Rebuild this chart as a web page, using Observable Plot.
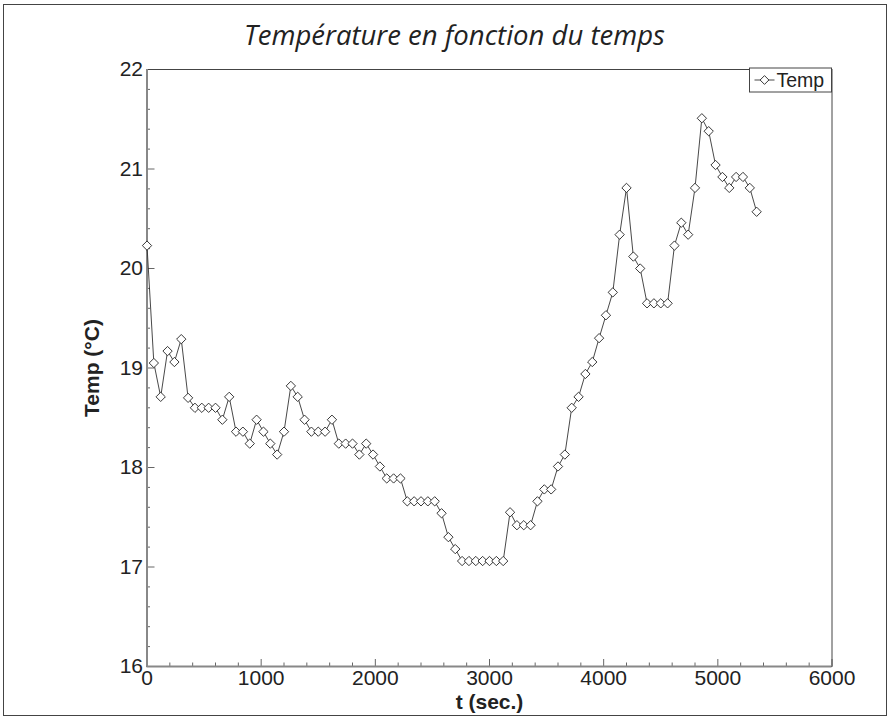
<!DOCTYPE html>
<html>
<head>
<meta charset="utf-8">
<script src="https://cdn.jsdelivr.net/npm/d3@7"></script>
<script src="https://cdn.jsdelivr.net/npm/@observablehq/plot@0.6"></script>
<style>
  html, body { margin: 0; padding: 0; background: #fff; }
  #wrap { position: relative; width: 893px; height: 720px; overflow: hidden; }
  #border { position: absolute; left: 3px; top: 4px; width: 884px; height: 712px; border: 1.5px solid #444; box-sizing: border-box; pointer-events: none; z-index: 2; }
  #wrap svg { position: absolute; left: 0; top: 0; }
</style>
</head>
<body>
<div id="wrap"><div id="border"></div></div>
<script>
const titleText = "Température en fonction du temps";
const xLabel = "t (sec.)";
const yLabel = "Temp (°C)";
const seriesName = "Temp";

const times = [0,60,120,180,240,300,360,420,480,540,
  600,660,720,780,840,900,960,1020,1080,1140,
  1200,1260,1320,1380,1440,1500,1560,1620,1680,1740,
  1800,1860,1920,1980,2040,2100,2160,2220,2280,2340,
  2400,2460,2520,2580,2640,2700,2760,2820,2880,2940,
  3000,3060,3120,3180,3240,3300,3360,3420,3480,3540,
  3600,3660,3720,3780,3840,3900,3960,4020,4080,4140,
  4200,4260,4320,4380,4440,4500,4560,4620,4680,4740,
  4800,4860,4920,4980,5040,5100,5160,5220,5280,5340];

const temps = [20.23,19.05,18.71,19.17,19.06,19.29,18.70,18.60,18.60,18.60,
  18.60,18.48,18.71,18.36,18.36,18.24,18.48,18.36,18.24,18.13,
  18.36,18.82,18.71,18.48,18.36,18.36,18.36,18.48,18.24,18.24,
  18.24,18.13,18.24,18.13,18.01,17.89,17.89,17.89,17.66,17.66,
  17.66,17.66,17.66,17.54,17.30,17.18,17.06,17.06,17.06,17.06,
  17.06,17.06,17.06,17.55,17.42,17.42,17.42,17.66,17.78,17.78,
  18.01,18.13,18.60,18.71,18.94,19.06,19.30,19.53,19.76,20.34,
  20.81,20.12,20.00,19.65,19.65,19.65,19.65,20.23,20.46,20.34,
  20.81,21.51,21.38,21.04,20.92,20.81,20.92,20.92,20.81,20.57];

const xMajor = [0,1000,2000,3000,4000,5000,6000];
const xMinor = [200,400,600,800,1200,1400,1600,1800,2200,2400,2600,2800,3200,3400,3600,3800,4200,4400,4600,4800,5200,5400,5600,5800];
const yMajor = [16,17,18,19,20,21,22];
const yMinor = [16.2,16.4,16.6,16.8,17.2,17.4,17.6,17.8,18.2,18.4,18.6,18.8,19.2,19.4,19.6,19.8,20.2,20.4,20.6,20.8,21.2,21.4,21.6,21.8];

const data = times.map((t, i) => ({t, temp: temps[i]}));

const W = 893, H = 720;
const mL = 146.5, mR = 61.5, mT = 69, mB = 54;
const fw = W - mL - mR, fh = H - mT - mB;
const sansFont = "'Liberation Sans', Arial, sans-serif";

const plot = Plot.plot({
  width: W, height: H,
  marginLeft: mL, marginRight: mR, marginTop: mT, marginBottom: mB,
  x: {domain: [0, 6000]},
  y: {domain: [16, 22]},
  style: {background: "transparent", fontFamily: sansFont, color: "#222"},
  marks: [
    Plot.axisX(xMajor, {tickSize: 0, tickPadding: 4, fontSize: 21, label: null, fill: "#222", tickFormat: d => String(d)}),
    Plot.axisY(yMajor, {tickSize: 0, tickPadding: 4, fontSize: 21, label: null, fill: "#222", tickFormat: d => String(d)}),
    Plot.tickX(xMajor, {x: d => d, insetTop: fh - 7, stroke: "#666", strokeWidth: 1}),
    Plot.tickX(xMinor, {x: d => d, insetTop: fh - 3.5, stroke: "#666", strokeWidth: 1}),
    Plot.tickY(yMajor, {y: d => d, insetRight: fw - 8, stroke: "#666", strokeWidth: 1}),
    Plot.tickY(yMinor, {y: d => d, insetRight: fw - 3.5, stroke: "#666", strokeWidth: 1}),
    Plot.frame({stroke: "#444", strokeWidth: 1}),
    Plot.ruleX([0], {stroke: "#888", strokeWidth: 2}),
    Plot.ruleY([16], {stroke: "#888", strokeWidth: 2}),
    Plot.line(data, {x: "t", y: "temp", stroke: "#333", strokeWidth: 0.9}),
    Plot.dot(data, {x: "t", y: "temp", symbol: "diamond2", r: 4.2, stroke: "#222", fill: "white", strokeWidth: 0.9}),
    Plot.text([titleText], {frameAnchor: "top", dx: -35, dy: -33, fontSize: 27.5, fontStyle: "italic", fontFamily: "'Open Sans', sans-serif", fill: "#222", lineAnchor: "middle"}),
    Plot.text([yLabel], {frameAnchor: "left", dx: -55, rotate: -90, fontSize: 21, fontWeight: "bold", fill: "#222", lineAnchor: "middle", textAnchor: "middle"}),
    Plot.text([xLabel], {frameAnchor: "bottom", dy: 36, fontSize: 21, fontWeight: "bold", fill: "#222", lineAnchor: "middle"})
  ]
});

document.getElementById("wrap").appendChild(plot);

// legend box in the top-right corner of the frame
const svg = d3.select(plot);
const lx1 = W - mR - 82, lx2 = W - mR, ly1 = mT - 1, ly2 = mT + 23;
const lg = svg.append("g");
lg.append("rect").attr("x", lx1).attr("y", ly1).attr("width", lx2 - lx1).attr("height", ly2 - ly1)
  .attr("fill", "white").attr("stroke", "#444").attr("stroke-width", 1);
const cy = (ly1 + ly2) / 2;
lg.append("line").attr("x1", lx1 + 5).attr("x2", lx1 + 25).attr("y1", cy).attr("y2", cy)
  .attr("stroke", "#333").attr("stroke-width", 0.9);
const s = 4.4, dcx = lx1 + 15;
lg.append("path").attr("d", `M${dcx},${cy-s}L${dcx+s},${cy}L${dcx},${cy+s}L${dcx-s},${cy}Z`)
  .attr("fill", "white").attr("stroke", "#222").attr("stroke-width", 0.9);
lg.append("text").attr("x", lx1 + 27).attr("y", cy + 6.8)
  .attr("text-anchor", "start")
  .attr("font-size", 19.5).attr("fill", "#222").attr("font-family", sansFont)
  .text(seriesName);
</script>
</body>
</html>
